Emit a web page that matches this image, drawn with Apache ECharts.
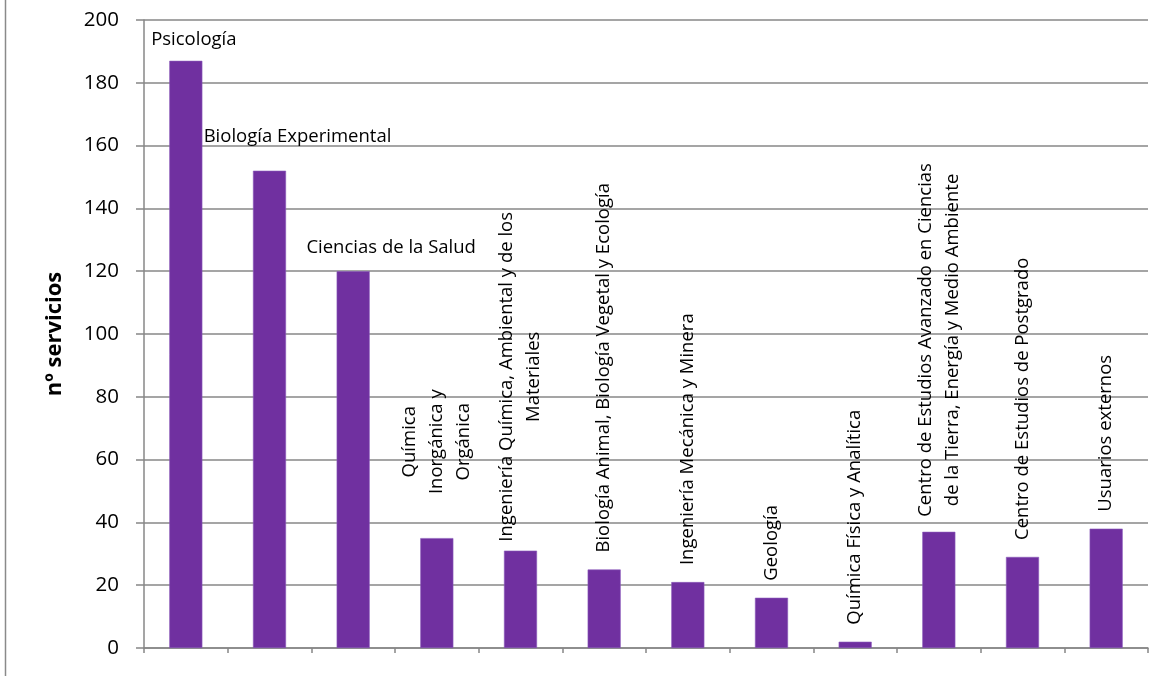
<!DOCTYPE html>
<html>
<head>
<meta charset="utf-8">
<title>nº servicios</title>
<script src="https://cdn.jsdelivr.net/npm/echarts@6/dist/echarts.min.js"></script>
<style>
  html, body { margin: 0; padding: 0; background: #ffffff; }
  #chart { width: 1171px; height: 677px; }
</style>
</head>
<body>
<div id="chart"></div>
<script>
// Departments / service users (line breaks as they are set in the bar labels)
const categories = [
  'Psicología',
  'Biología Experimental',
  'Ciencias de la Salud',
  'Química\nInorgánica y\nOrgánica',
  'Ingeniería Química, Ambiental y de los\nMateriales',
  'Biología Animal, Biología Vegetal y Ecología',
  'Ingeniería Mecánica y Minera',
  'Geología',
  'Química Física y Analítica',
  'Centro de Estudios Avanzado en Ciencias\nde la Tierra, Energía y Medio Ambiente',
  'Centro de Estudios de Postgrado',
  'Usuarios externos'
];

// Number of services per department
const services = [187, 152, 120, 35, 31, 25, 21, 16, 2, 37, 29, 38];

// Value axis ticks
const yTicks = [0, 20, 40, 60, 80, 100, 120, 140, 160, 180, 200];

const FONT = '"Open Sans", "Noto Sans", sans-serif';
const BAR_COLOR = '#7030A0';
const GRID_COLOR = '#878787';
const LABEL_SIZE = 18.5;

// Label placement: the first three labels sit horizontally, the rest run upward.
const horizontalLabels = {
  0: { dx: 8, gap: 12 },
  1: { dx: 28, gap: 24 },
  2: { dx: 38, gap: 14 }
};
const verticalGap = { 3: 44, 4: 9, 9: 15 };

function buildLabel(i) {
  if (horizontalLabels[i]) {
    return {
      show: true,
      position: 'top',
      distance: horizontalLabels[i].gap,
      formatter: () => categories[i],
      color: '#000',
      fontFamily: FONT,
      fontSize: LABEL_SIZE
    };
  }
  const lines = categories[i].split('\n');
  return {
    show: true,
    position: 'top',
    rotate: 90,
    align: 'left',
    verticalAlign: 'middle',
    distance: verticalGap[i] !== undefined ? verticalGap[i] : 17,
    formatter: () => lines.map(l => '{c|' + l + '}').join('\n'),
    rich: {
      c: {
        align: 'center',
        color: '#000',
        fontFamily: FONT,
        fontSize: LABEL_SIZE,
        lineHeight: 27
      }
    }
  };
}

const barData = services.map((v, i) => ({ value: v, label: buildLabel(i) }));

const chart = echarts.init(document.getElementById('chart'), null, { renderer: 'canvas' });

chart.setOption({
  backgroundColor: '#ffffff',
  animation: false,
  grid: { left: 144, right: 23, top: 20, bottom: 29, containLabel: false },
  graphic: [{
    type: 'line',
    shape: { x1: 5.5, y1: 0, x2: 5.5, y2: 676 },
    style: { stroke: '#8a8a8a', lineWidth: 1.5 },
    silent: true
  }],
  xAxis: {
    type: 'category',
    data: categories,
    boundaryGap: true,
    axisLine: { show: true, lineStyle: { color: GRID_COLOR, width: 1.5 } },
    axisTick: { show: true, interval: 0, length: 5, lineStyle: { color: GRID_COLOR, width: 1.5 } },
    axisLabel: { show: false, interval: 0 },
    splitLine: { show: false }
  },
  yAxis: {
    type: 'value',
    min: yTicks[0],
    max: yTicks[yTicks.length - 1],
    interval: yTicks[1] - yTicks[0],
    name: 'nº servicios',
    nameLocation: 'middle',
    nameGap: 78,
    nameTextStyle: {
      color: '#000',
      fontFamily: FONT,
      fontWeight: 'bold',
      fontSize: 22
    },
    axisLine: { show: true, lineStyle: { color: GRID_COLOR, width: 1.5 } },
    axisTick: { show: true, length: 8, lineStyle: { color: GRID_COLOR, width: 1.5 } },
    axisLabel: {
      color: '#000',
      fontFamily: FONT,
      fontSize: 20.5,
      margin: 25,
      formatter: v => String(v)
    },
    splitLine: { show: true, lineStyle: { color: GRID_COLOR, width: 1.5 } }
  },
  series: [{
    type: 'bar',
    data: barData,
    barWidth: '39.5%',
    itemStyle: { color: BAR_COLOR, borderColor: '#8a5bbb', borderWidth: 0.6 },
    labelLayout: p => {
      const h = horizontalLabels[p.dataIndex];
      return { dx: h ? h.dx : 0, hideOverlap: false };
    }
  }]
});
</script>
</body>
</html>
